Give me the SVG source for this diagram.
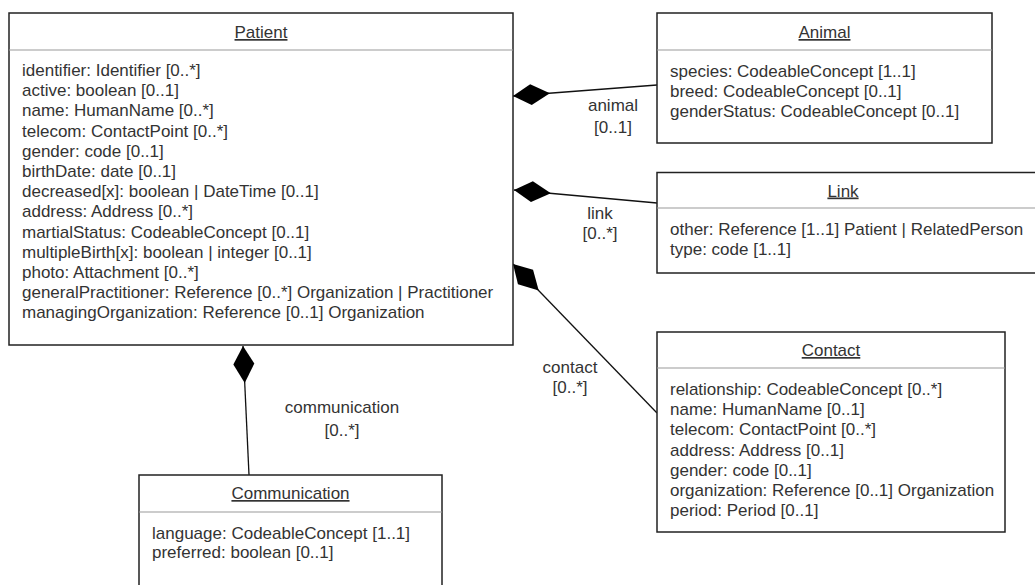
<svg xmlns="http://www.w3.org/2000/svg" width="1035" height="585" viewBox="0 0 1035 585">
<style>
.box{fill:#fff;stroke:#222;stroke-width:1.5}
.sep{stroke:#999;stroke-width:1.2}
text{font-family:"Liberation Sans",Arial,Helvetica,sans-serif;font-size:17px;fill:#333}
.title{text-anchor:middle;text-decoration:underline}
.lbl{text-anchor:middle}
.conn{fill:none;stroke:#111;stroke-width:1.3}
</style>
<defs>
<marker id="diamond" markerUnits="userSpaceOnUse" markerWidth="40" markerHeight="24" refX="0" refY="11" orient="auto" viewBox="0 0 40 22">
<path d="M0,11 L18,0.5 L37,11 L18,21.5 Z" fill="#000"/>
</marker>
</defs>
<rect width="1035" height="585" fill="#fff"/>

<g id="connectors">
<path class="conn" d="M513,96 L657,85" marker-start="url(#diamond)"/>
<path class="conn" d="M514,190 L657,203" marker-start="url(#diamond)"/>
<path class="conn" d="M513,264 L657,413" marker-start="url(#diamond)"/>
<path class="conn" d="M243,346 L249,475" marker-start="url(#diamond)"/>
<text class="lbl" x="613" y="111">animal</text>
<text class="lbl" x="613" y="133">[0..1]</text>
<text class="lbl" x="600" y="219">link</text>
<text class="lbl" x="600" y="239">[0..*]</text>
<text class="lbl" x="570" y="373">contact</text>
<text class="lbl" x="570" y="393">[0..*]</text>
<text class="lbl" x="342" y="413">communication</text>
<text class="lbl" x="342" y="436">[0..*]</text>
</g>

<g id="patient">
<rect class="box" x="9" y="13" width="504" height="332"/>
<line class="sep" x1="9" y1="50" x2="513" y2="50"/>
<text class="title" x="261" y="38">Patient</text>
<text x="22" y="76">identifier: Identifier [0..*]</text>
<text x="22" y="96.2">active: boolean [0..1]</text>
<text x="22" y="116.4">name: HumanName [0..*]</text>
<text x="22" y="136.6">telecom: ContactPoint [0..*]</text>
<text x="22" y="156.8">gender: code [0..1]</text>
<text x="22" y="177">birthDate: date [0..1]</text>
<text x="22" y="197.2">decreased[x]: boolean | DateTime [0..1]</text>
<text x="22" y="217.4">address: Address [0..*]</text>
<text x="22" y="237.6">martialStatus: CodeableConcept [0..1]</text>
<text x="22" y="257.8">multipleBirth[x]: boolean | integer [0..1]</text>
<text x="22" y="278">photo: Attachment [0..*]</text>
<text x="22" y="298.2">generalPractitioner: Reference [0..*] Organization | Practitioner</text>
<text x="22" y="318.4">managingOrganization: Reference [0..1] Organization</text>
</g>

<g id="animal">
<rect class="box" x="657" y="13" width="335" height="130"/>
<line class="sep" x1="657" y1="50" x2="992" y2="50"/>
<text class="title" x="824.5" y="38">Animal</text>
<text x="670" y="76.5">species: CodeableConcept [1..1]</text>
<text x="670" y="96.5">breed: CodeableConcept [0..1]</text>
<text x="670" y="116.5">genderStatus: CodeableConcept [0..1]</text>
</g>

<g id="link">
<rect class="box" x="657" y="172.5" width="390" height="100.5"/>
<line class="sep" x1="657" y1="208" x2="1047" y2="208"/>
<text class="title" x="843" y="196.5">Link</text>
<text x="670" y="235">other: Reference [1..1] Patient | RelatedPerson</text>
<text x="670" y="255">type: code [1..1]</text>
</g>

<g id="contact">
<rect class="box" x="657" y="332" width="348" height="200"/>
<line class="sep" x1="657" y1="368" x2="1005" y2="368"/>
<text class="title" x="831" y="356">Contact</text>
<text x="670" y="395">relationship: CodeableConcept [0..*]</text>
<text x="670" y="415.2">name: HumanName [0..1]</text>
<text x="670" y="435.4">telecom: ContactPoint [0..*]</text>
<text x="670" y="455.6">address: Address [0..1]</text>
<text x="670" y="475.8">gender: code [0..1]</text>
<text x="670" y="496">organization: Reference [0..1] Organization</text>
<text x="670" y="516.2">period: Period [0..1]</text>
</g>

<g id="communication">
<rect class="box" x="139" y="475" width="303" height="130"/>
<line class="sep" x1="139" y1="512" x2="442" y2="512"/>
<text class="title" x="290.5" y="499">Communication</text>
<text x="152" y="539">language: CodeableConcept [1..1]</text>
<text x="152" y="558">preferred: boolean [0..1]</text>
</g>
</svg>
